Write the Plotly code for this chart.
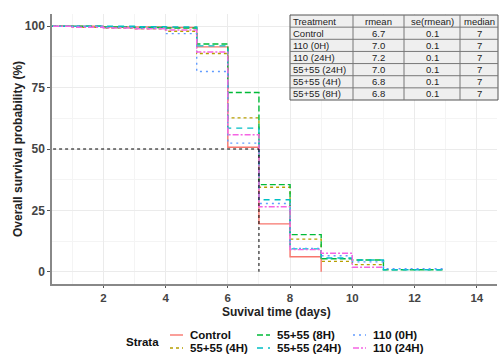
import plotly.graph_objects as go

# ---- data ----
strata = ["Control", "55+55 (4H)", "55+55 (8H)", "55+55 (24H)", "110 (0H)", "110 (24H)"]
t_control = [0, 1, 2, 3, 4, 5, 6, 7, 8, 9]
s_control = [100, 100, 99.7, 99.7, 99.5, 91.6, 50.7, 19.5, 6.1, 0]
t_4h = [0, 1, 2, 3, 4, 5, 6, 7, 8, 9, 10, 11]
s_4h = [100, 99.6, 99.3, 99.0, 98.0, 88.9, 62.7, 34.4, 13.3, 4.2, 2.9, 2.9]
t_8h = [0, 1, 2, 3, 4, 5, 6, 7, 8, 9, 10, 11, 12, 13]
s_8h = [100, 100, 99.7, 99.5, 99.3, 92.8, 73.0, 35.5, 15.1, 5.3, 4.8, 0.8, 0.8, 0.8]
t_24h = [0, 1, 2, 3, 4, 5, 6, 7, 8, 9, 10, 11, 12, 13]
s_24h = [100, 100, 100, 99.8, 99.7, 92.0, 58.5, 29.3, 9.3, 5.6, 4.8, 0.8, 0.8, 0.8]
t_0h = [0, 1, 2, 3, 4, 5, 6, 7, 8, 9, 10, 11, 12, 13]
s_0h = [100, 100, 99.5, 99.2, 97.0, 81.6, 52.4, 27.8, 9.5, 6.5, 4.0, 1.2, 1.2, 1.2]
t_110_24h = [0, 1, 2, 3, 4, 5, 6, 7, 8, 9, 10, 11]
s_110_24h = [100, 99.6, 99.3, 99.0, 98.5, 89.5, 55.8, 26.5, 9.0, 7.5, 1.8, 1.8]

median_time = 7
median_surv = 50

tbl_header = ["Treatment", "rmean", "se(rmean)", "median"]
tbl_treat = ["Control", "110 (0H)", "110 (24H)", "55+55 (24H)", "55+55 (4H)", "55+55 (8H)"]
tbl_rmean = ["6.7", "7.0", "7.2", "7.0", "6.8", "6.8"]
tbl_se = ["0.1", "0.1", "0.1", "0.1", "0.1", "0.1"]
tbl_median = ["7", "7", "7", "7", "7", "7"]

x_ticks = [2, 4, 6, 8, 10, 12, 14]
y_ticks = [0, 25, 50, 75, 100]

# ---- styles ----
colors = ["#F8766D", "#B79F00", "#00BA38", "#00BFC4", "#619CFF", "#F564E3"]
dashes = ["solid", "3px,3px", "6px,3px", "6px,5px", "2px,4px", "6px,2px,2px,2px"]
series = [(t_control, s_control), (t_4h, s_4h), (t_8h, s_8h),
          (t_24h, s_24h), (t_0h, s_0h), (t_110_24h, s_110_24h)]

W, H = 499, 356
ML, MR, MT, MB = 52, 2, 14, 72
PW, PH = W - ML - MR, H - MT - MB

def px(x):
    return (x - ML) / PW

def py(y):
    return (H - MB - y) / PH

fig = go.Figure()

for i, (t, s) in enumerate(series):
    fig.add_trace(go.Scatter(
        x=t, y=s, mode="lines", line_shape="hv", name=strata[i],
        line=dict(color=colors[i], width=1.4, dash=dashes[i]),
        showlegend=False, hoverinfo="skip"))

# median reference lines
fig.add_trace(go.Scatter(x=[0, median_time], y=[median_surv, median_surv], mode="lines",
                         line=dict(color="black", width=1, dash="3px,3px"), showlegend=False))
fig.add_trace(go.Scatter(x=[median_time, median_time], y=[median_surv, 0], mode="lines",
                         line=dict(color="black", width=1, dash="3px,3px"), showlegend=False))

shapes = []
annotations = []

# ---- table ----
col_edges = [290, 353, 404, 460, 498]
ty0, ty1 = 15, 100
nrows = 7
rh = (ty1 - ty0) / nrows
tx0, tx1 = col_edges[0], col_edges[-1]
shapes.append(dict(type="rect", xref="paper", yref="paper",
                   x0=px(tx0), x1=px(tx1), y0=py(ty1), y1=py(ty0),
                   fillcolor="#efefef", line=dict(color="#555555", width=1), layer="above"))
for r in range(1, nrows):
    yy = ty0 + r * rh
    shapes.append(dict(type="line", xref="paper", yref="paper",
                       x0=px(tx0), x1=px(tx1), y0=py(yy), y1=py(yy),
                       line=dict(color="#777777", width=1), layer="above"))
for c in col_edges[1:-1]:
    shapes.append(dict(type="line", xref="paper", yref="paper",
                       x0=px(c), x1=px(c), y0=py(ty0), y1=py(ty1),
                       line=dict(color="#777777", width=1), layer="above"))

rows = [tbl_header] + [list(r) for r in zip(tbl_treat, tbl_rmean, tbl_se, tbl_median)]
tfont = dict(size=9.5, color="#222222", family="Liberation Sans")
for r, row in enumerate(rows):
    yc = ty0 + (r + 0.5) * rh
    for c, txt in enumerate(row):
        if c == 0:
            annotations.append(dict(x=px(col_edges[0] + 1), y=py(yc), xref="paper", yref="paper",
                                    text=txt, showarrow=False, xanchor="left", yanchor="middle",
                                    font=tfont))
        else:
            annotations.append(dict(x=px((col_edges[c] + col_edges[c + 1]) / 2), y=py(yc),
                                    xref="paper", yref="paper",
                                    text=txt, showarrow=False, xanchor="center", yanchor="middle",
                                    font=tfont))

# ---- legend (manual, 2 rows filled by column) ----
lfont = dict(size=11.5, color="#111111", family="Liberation Sans")
annotations.append(dict(x=px(142), y=py(342), xref="paper", yref="paper", text="<b>Strata</b>",
                        showarrow=False, xanchor="center", yanchor="middle", font=lfont))
col_x = [170, 257, 353]
row_y = [335, 348]
for i, name in enumerate(strata):
    c, r = i // 2, i % 2
    x0 = col_x[c]
    yy = row_y[r]
    shapes.append(dict(type="line", xref="paper", yref="paper",
                       x0=px(x0), x1=px(x0 + 13), y0=py(yy), y1=py(yy),
                       line=dict(color=colors[i], width=1.4, dash=dashes[i])))
    annotations.append(dict(x=px(x0 + 18), y=py(yy), xref="paper", yref="paper",
                            text=f"<b>{name}</b>", showarrow=False, xanchor="left",
                            yanchor="middle", font=lfont))

# ---- axis titles ----
annotations.append(dict(x=px(276), y=py(312), xref="paper", yref="paper",
                        text="<b>Suvival time (days)</b>", showarrow=False,
                        xanchor="center", yanchor="middle",
                        font=dict(size=12, color="#222222", family="Liberation Sans")))
annotations.append(dict(x=px(18), y=py(149), xref="paper", yref="paper",
                        text="<b>Overall survival probability (%)</b>", showarrow=False,
                        textangle=-90, xanchor="center", yanchor="middle",
                        font=dict(size=12, color="#222222", family="Liberation Sans")))

fig.update_layout(
    width=W, height=H,
    margin=dict(l=ML, r=MR, t=MT, b=MB, autoexpand=False),
    paper_bgcolor="white", plot_bgcolor="white",
    font=dict(family="Liberation Sans", size=11, color="#333333"),
    shapes=shapes, annotations=annotations,
    showlegend=False,
)

fig.update_xaxes(range=[0.35, 14.65], tickvals=x_ticks,
                 ticktext=[f"<b>{v}</b>" for v in x_ticks],
                 showgrid=True, gridcolor="#ebebeb", gridwidth=1,
                 minor=dict(dtick=1, showgrid=True, gridcolor="#f4f4f4", gridwidth=1),
                 zeroline=False, showline=True, linecolor="#888888", linewidth=1.5, mirror=False,
                 ticks="outside", ticklen=2, tickcolor="#555555",
                 tickfont=dict(size=11.5, color="#444444"))
fig.update_yaxes(range=[-5, 105], tickvals=y_ticks,
                 ticktext=[f"<b>{v}</b>" for v in y_ticks],
                 showgrid=True, gridcolor="#ebebeb", gridwidth=1,
                 minor=dict(tickvals=[12.5, 37.5, 62.5, 87.5], showgrid=True, gridcolor="#f4f4f4", gridwidth=1),
                 zeroline=False, showline=True, linecolor="#888888", linewidth=1.5, mirror=False,
                 ticks="outside", ticklen=3, tickcolor="#555555",
                 tickfont=dict(size=12, color="#444444"))

fig.write_html("out.html")
